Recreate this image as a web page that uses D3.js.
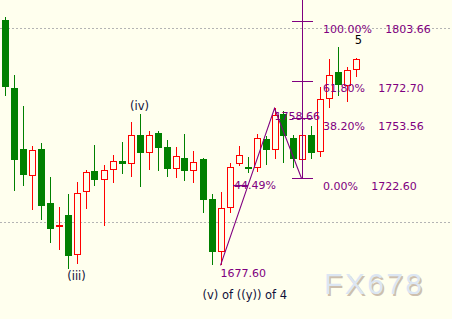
<!DOCTYPE html>
<html>
<head>
<meta charset="utf-8">
<script src="https://cdn.jsdelivr.net/npm/d3@7"></script>
<style>
body{margin:0;background:#ffffee;}
svg{display:block;}
</style>
</head>
<body>
<div id="chart"></div>
<script>
// 蜡烛数据 (开,高,低,收)
var open =[1804.3,1769.2,1737.7,1723.9,1737.7,1709.7,1697.3,1703.5,1682.8,1715.3,1726.3,1721.5,1727.0,1731.5,1730.1,1744.9,1735.8,1746.0,1738.7,1727.5,1732.9,1726.5,1732.5,1711.9,1684.7,1707.1,1729.8,1728.2,1727.7,1742.7,1737.0,1755.8,1743.4,1731.9,1745.1,1736.0,1763.7,1777.4,1770.2,1778.5];
var high =[1806.0,1775.9,1759.9,1739.2,1740.8,1723.2,1707.7,1714.5,1720.7,1726.8,1739.8,1729.3,1734.6,1741.5,1751.6,1755.8,1747.0,1747.0,1742.3,1738.7,1745.4,1736.7,1732.9,1714.6,1715.5,1730.3,1739.2,1733.4,1745.4,1744.4,1758.66,1757.5,1745.1,1746.0,1749.6,1769.5,1784.3,1790.5,1780.2,1784.8];
var low  =[1765.2,1716.2,1718.6,1706.2,1701.0,1689.0,1685.5,1675.6,1678.3,1706.9,1718.6,1698.1,1720.3,1724.9,1723.2,1718.2,1726.8,1726.5,1723.4,1722.9,1721.3,1720.3,1704.8,1677.8,1677.6,1704.8,1728.9,1725.1,1725.7,1729.3,1732.4,1730.3,1727.9,1722.6,1732.4,1733.4,1759.0,1765.2,1762.1,1775.0];
var close=[1769.9,1732.0,1724.3,1737.0,1708.3,1696.5,1698.3,1682.6,1714.8,1725.8,1721.8,1726.7,1731.5,1730.1,1744.9,1735.8,1744.9,1738.4,1727.5,1733.9,1726.5,1731.0,1711.5,1684.7,1707.1,1728.2,1734.4,1727.5,1743.2,1737.0,1755.2,1744.2,1732.4,1744.9,1735.8,1763.3,1775.7,1770.9,1778.5,1784.0];

var gridLevels=[1800,1700];
// 波浪线 (索引,价格)
var zigIndex=[24,30,33];
var zigPrice=[1677.60,1758.66,1722.60];
// 斐波那契扩展
var fibPct=["100.00%","61.80%","38.20%","0.00%"];
var fibPrice=[1803.66,1772.70,1753.56,1722.60];
var retrPct="44.49%";
// 浪标注
var waveText=["(iv)","(iii)","5","(v) of ((y)) of 4"];
var waveIndex=[15,8,39,22];
var wavePrice=[1757.8,1670.1,1792.1,1660.5];
var waveAnchor=["middle","middle","middle","start"];

var W=452,H=319;
var purple="#800080";

var x=d3.scaleLinear().domain([0,39]).range([4.5,355.5]);
var y=d3.scaleLinear().domain([1700,1800]).range([222,28.3]);

var svg=d3.select("#chart").append("svg")
	.attr("width",W).attr("height",H)
	.style("font-family","'DejaVu Sans',Verdana,sans-serif");

svg.append("rect").attr("width",W).attr("height",H).attr("fill","#ffffee");

// 网格虚线
svg.selectAll(".grid").data(gridLevels).enter().append("line")
	.attr("x1",0).attr("x2",W)
	.attr("y1",function(d){return Math.round(y(d))+0.5;})
	.attr("y2",function(d){return Math.round(y(d))+0.5;})
	.attr("stroke","#b4b4b4").attr("stroke-dasharray","2,2");

// 水印
var wm=svg.append("g").attr("font-family","'Liberation Sans',Arial,sans-serif")
	.attr("font-size",30).attr("letter-spacing",2.4);
wm.append("text").attr("x",325.5).attr("y",295.5).attr("fill","#cdbfae").text("FX678");
wm.append("text").attr("x",324).attr("y",294).attr("fill","#dce6f3").text("FX678");

function px(v){return Math.round(v);}

// 蜡烛
var candles=d3.range(open.length);
var g=svg.append("g").attr("shape-rendering","crispEdges");
candles.forEach(function(i){
	var cx=px(x(i))+0.5;
	var up=close[i]>=open[i];
	var top=px(y(Math.max(open[i],close[i])));
	var bot=px(y(Math.min(open[i],close[i])));
	var hi=px(y(high[i])),lo=px(y(low[i]));
	if(up){
		var col="#ff0000";
		g.append("line").attr("x1",cx).attr("x2",cx).attr("y1",hi).attr("y2",top).attr("stroke",col);
		g.append("line").attr("x1",cx).attr("x2",cx).attr("y1",bot).attr("y2",lo).attr("stroke",col);
		g.append("rect").attr("x",cx-3).attr("y",top+0.5).attr("width",6).attr("height",Math.max(bot-top-1,1))
			.attr("fill","#ffffee").attr("stroke",col);
	}else{
		var col="#008000";
		g.append("line").attr("x1",cx).attr("x2",cx).attr("y1",hi).attr("y2",lo).attr("stroke",col);
		g.append("rect").attr("x",cx-3.5).attr("y",top).attr("width",7).attr("height",Math.max(bot-top,2))
			.attr("fill",col);
	}
});

// 斐波那契竖线及刻度
var fx=px(x(zigIndex[2]))+0.5;
var fg=svg.append("g").attr("shape-rendering","crispEdges");
fg.append("line").attr("x1",fx).attr("x2",fx).attr("y1",0).attr("y2",px(y(fibPrice[3])))
	.attr("stroke",purple);
fg.selectAll(".fibtick").data(fibPrice).enter().append("line")
	.attr("x1",fx-10.5).attr("x2",fx+10)
	.attr("y1",function(d){return px(y(d))+0.5;})
	.attr("y2",function(d){return px(y(d))+0.5;})
	.attr("stroke",purple);

// 波浪折线
var zig=zigIndex.map(function(d,i){return {x:x(d),y:y(zigPrice[i])};});
var linePath=d3.line().x(function(d){return d.x;}).y(function(d){return d.y;});
svg.append("path").attr("d",linePath(zig)).attr("fill","none")
	.attr("stroke",purple).attr("stroke-width",1.1);

// 回撤标注
var rx=x(zigIndex[0])+13.5;
var ry=y(zigPrice[2])+7;
var t=(y(zigPrice[0])-ry)/(y(zigPrice[0])-y(zigPrice[1]));
svg.append("line").attr("x1",rx-1).attr("x2",zig[0].x+t*(zig[1].x-zig[0].x))
	.attr("y1",px(ry)+0.5).attr("y2",px(ry)+0.5).attr("stroke",purple).attr("stroke-width",1.1);
svg.append("text").attr("x",rx).attr("y",y(zigPrice[2])+11.2)
	.attr("font-size",11).attr("fill",purple).text(retrPct);

// 高低点价格
[0,1].forEach(function(k){
	svg.append("text").attr("x",x(zigIndex[k])).attr("y",y(zigPrice[k])+11.3)
		.attr("font-size",11).attr("fill",purple).text(zigPrice[k].toFixed(2));
});

// 斐波那契标签
fibPct.forEach(function(p,i){
	var ty=y(fibPrice[i])+11.3;
	var pt=svg.append("text").attr("x",fx+20.5).attr("y",ty)
		.attr("font-size",11).attr("fill",purple).text(p);
	var len=pt.node().getComputedTextLength();
	svg.append("text").attr("x",fx+20.5+len+13.2).attr("y",ty)
		.attr("font-size",11).attr("fill",purple).text(fibPrice[i].toFixed(2));
});

// 浪标注
waveText.forEach(function(s,i){
	svg.append("text").attr("x",x(waveIndex[i])+(i==2?3:0)).attr("y",y(wavePrice[i]))
		.attr("text-anchor",waveAnchor[i])
		.attr("font-size",11.5)
		.attr("fill",i==2?"#000":"#10103a").text(s);
});
</script>
</body>
</html>
